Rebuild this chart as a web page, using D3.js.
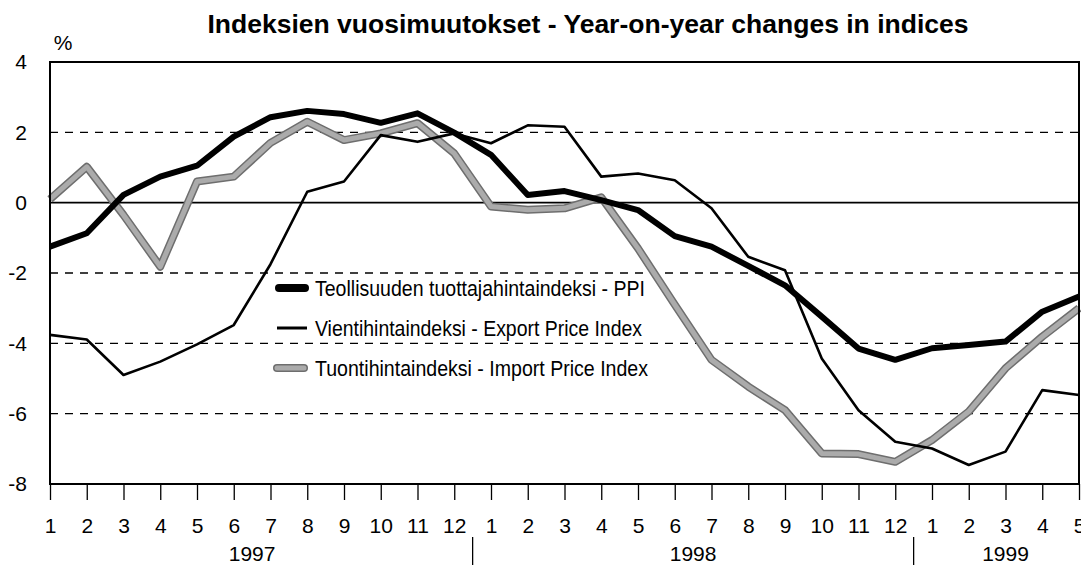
<!DOCTYPE html>
<html>
<head>
<meta charset="utf-8">
<script src="https://cdn.jsdelivr.net/npm/d3@7"></script>
<style>
  body { margin: 0; background: #fff; }
  text { font-family: "Liberation Sans", Arial, sans-serif; fill: #000; }
</style>
</head>
<body>
<svg id="drawing_region"></svg>
<script>
// month labels along the x axis (Jan 1997 .. May 1999)
const months = [1,2,3,4,5,6,7,8,9,10,11,12, 1,2,3,4,5,6,7,8,9,10,11,12, 1,2,3,4,5];
const years = ["1997", "1998", "1999"];
const yearStart = [0, 12, 24];
const yearEnd = [11, 23, 28];

const yTicks = [4, 2, 0, -2, -4, -6, -8];
const gridDashed = [2, -2, -4, -6];

const ppi = [-1.25, -0.87, 0.22, 0.74, 1.05, 1.88, 2.43, 2.61, 2.52, 2.27, 2.54, 1.99,
             1.36, 0.22, 0.33, 0.07, -0.21, -0.95, -1.25, -1.8, -2.35, -3.24, -4.15, -4.47,
             -4.14, -4.05, -3.95, -3.1, -2.67];
const exportIdx = [-3.76, -3.89, -4.9, -4.52, -4.03, -3.48, -1.75, 0.31, 0.6, 1.92, 1.73, 1.97,
                   1.69, 2.2, 2.16, 0.74, 0.83, 0.64, -0.16, -1.54, -1.92, -4.43, -5.9, -6.8,
                   -6.99, -7.46, -7.08, -5.33, -5.47];
const importIdx = [0.1, 1.02, -0.35, -1.82, 0.6, 0.74, 1.7, 2.3, 1.78, 1.97, 2.26, 1.4,
                   -0.11, -0.2, -0.16, 0.15, -1.3, -2.9, -4.47, -5.23, -5.9, -7.13, -7.15, -7.37,
                   -6.75, -5.94, -4.71, -3.81, -3.0];

const seriesNames = [
    "Teollisuuden tuottajahintaindeksi - PPI",
    "Vientihintaindeksi - Export Price Index",
    "Tuontihintaindeksi - Import Price Index"
];

var config = {
    parent: '#drawing_region',
    width: 1081,
    height: 565,
    margin: { top: 62, right: 2, bottom: 81, left: 50 }
};

class IndexChart {
    constructor(config) {
        this.config = config;
        this.init();
    }

    init() {
        let self = this;

        self.svg = d3.select(self.config.parent)
            .attr('width', self.config.width)
            .attr('height', self.config.height);

        self.chart = self.svg.append('g')
            .attr('transform', `translate(${self.config.margin.left},${self.config.margin.top})`);

        self.inner_width = self.config.width - self.config.margin.left - self.config.margin.right;
        self.inner_height = self.config.height - self.config.margin.top - self.config.margin.bottom;

        self.xscale = d3.scaleLinear()
            .domain([0, months.length - 1])
            .range([0, self.inner_width]);

        self.yscale = d3.scaleLinear()
            .domain([-8, 4])
            .range([self.inner_height, 0]);
    }

    render() {
        let self = this;
        const xs = self.xscale, ys = self.yscale;

        // title and unit
        self.svg.append('text')
            .attr('x', 588).attr('y', 33)
            .attr('text-anchor', 'middle')
            .attr('font-size', 25).attr('font-weight', 'bold')
            .attr('textLength', 761).attr('lengthAdjust', 'spacingAndGlyphs')
            .text("Indeksien vuosimuutokset - Year-on-year changes in indices");

        self.svg.append('text')
            .attr('x', 63).attr('y', 50)
            .attr('text-anchor', 'middle')
            .attr('font-size', 21)
            .text("%");

        // gridlines
        self.chart.selectAll('.grid').data(gridDashed).enter()
            .append('line')
            .attr('x1', 0).attr('x2', self.inner_width)
            .attr('y1', d => ys(d)).attr('y2', d => ys(d))
            .attr('stroke', '#000').attr('stroke-width', 1.3)
            .attr('stroke-dasharray', '8,7');

        self.chart.append('line')
            .attr('x1', 0).attr('x2', self.inner_width)
            .attr('y1', ys(0)).attr('y2', ys(0))
            .attr('stroke', '#000').attr('stroke-width', 1.6);

        // y axis labels
        const yaxis = d3.axisLeft(ys)
            .tickValues(yTicks)
            .tickFormat(d => String(d))
            .tickSize(0)
            .tickPadding(23);
        const yg = self.chart.append('g').call(yaxis);
        yg.select('.domain').remove();
        yg.selectAll('text')
            .attr('font-size', 21)
            .attr('font-family', '"Liberation Sans", Arial, sans-serif');

        // x axis
        const xaxis = d3.axisBottom(xs)
            .tickValues(d3.range(months.length))
            .tickFormat(i => months[i])
            .tickSize(16)
            .tickPadding(18);
        const xg = self.chart.append('g')
            .attr('transform', `translate(0,${self.inner_height})`)
            .call(xaxis);
        xg.select('.domain').remove();
        xg.selectAll('.tick line').attr('stroke-width', 1.3);
        xg.selectAll('text')
            .attr('font-size', 21)
            .attr('font-family', '"Liberation Sans", Arial, sans-serif');

        // year labels and separators
        self.chart.selectAll('.year').data(years).enter()
            .append('text')
            .attr('x', (d, i) => (xs(yearStart[i]) + xs(yearEnd[i])) / 2)
            .attr('y', self.inner_height + 77)
            .attr('text-anchor', 'middle')
            .attr('font-size', 21)
            .text(d => d);

        self.chart.selectAll('.sep').data([11.5, 23.5]).enter()
            .append('line')
            .attr('x1', d => xs(d)).attr('x2', d => xs(d))
            .attr('y1', self.inner_height + 53).attr('y2', self.config.height)
            .attr('stroke', '#000').attr('stroke-width', 1.3);

        // series
        const line = d3.line()
            .x((d, i) => xs(i))
            .y(d => ys(d));

        // import: grey textured band
        self.chart.append('path')
            .attr('d', line(importIdx))
            .attr('fill', 'none').attr('stroke', '#6e6e6e')
            .attr('stroke-width', 8).attr('stroke-linejoin', 'round');
        self.chart.append('path')
            .attr('d', line(importIdx))
            .attr('fill', 'none').attr('stroke', '#ababab')
            .attr('stroke-width', 5).attr('stroke-linejoin', 'round');

        self.chart.append('path')
            .attr('d', line(exportIdx))
            .attr('fill', 'none').attr('stroke', '#000')
            .attr('stroke-width', 2.6).attr('stroke-linejoin', 'round');

        self.chart.append('path')
            .attr('d', line(ppi))
            .attr('fill', 'none').attr('stroke', '#000')
            .attr('stroke-width', 6).attr('stroke-linejoin', 'round');

        // plot frame
        self.chart.append('rect')
            .attr('x', 0).attr('y', 0)
            .attr('width', self.inner_width).attr('height', self.inner_height)
            .attr('fill', 'none').attr('stroke', '#000').attr('stroke-width', 2);

        // legend
        const legend = self.svg.append('g');
        const rows = [288, 328, 368];

        legend.append('line')
            .attr('x1', 279).attr('x2', 305).attr('y1', rows[0]).attr('y2', rows[0])
            .attr('stroke', '#000').attr('stroke-width', 8).attr('stroke-linecap', 'round');
        legend.append('line')
            .attr('x1', 277).attr('x2', 307).attr('y1', rows[1]).attr('y2', rows[1])
            .attr('stroke', '#000').attr('stroke-width', 3);
        legend.append('line')
            .attr('x1', 277).attr('x2', 304).attr('y1', rows[2]).attr('y2', rows[2])
            .attr('stroke', '#6e6e6e').attr('stroke-width', 8).attr('stroke-linecap', 'round');
        legend.append('line')
            .attr('x1', 277).attr('x2', 304).attr('y1', rows[2]).attr('y2', rows[2])
            .attr('stroke', '#ababab').attr('stroke-width', 5).attr('stroke-linecap', 'round');

        const lens = [330, 327, 333];
        legend.selectAll('.ltext').data(seriesNames).enter()
            .append('text')
            .attr('x', 315)
            .attr('y', (d, i) => rows[i] + 8)
            .attr('font-size', 22)
            .attr('textLength', (d, i) => lens[i])
            .attr('lengthAdjust', 'spacingAndGlyphs')
            .text(d => d);
    }
}

const chart = new IndexChart(config);
chart.render();
</script>
</body>
</html>
